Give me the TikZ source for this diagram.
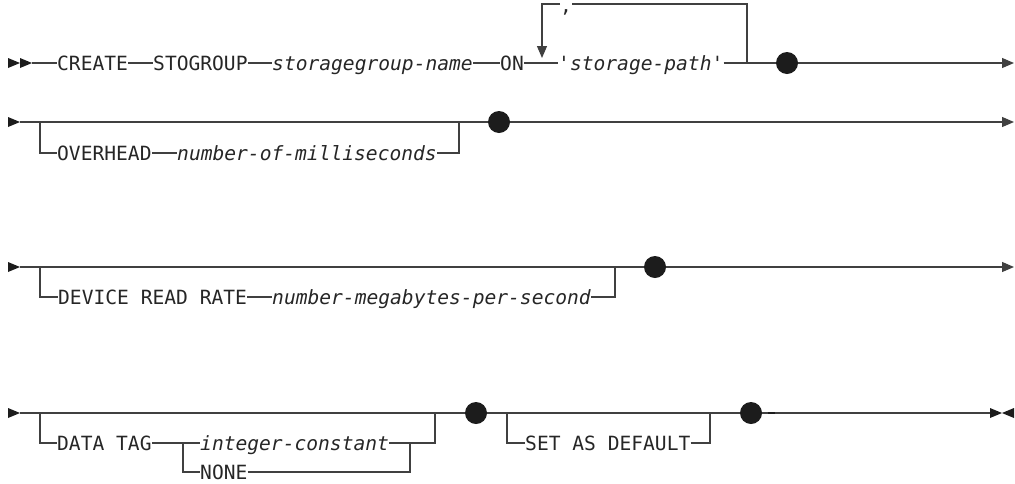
\documentclass[tikz,border=0pt]{standalone}
\usepackage{fontspec}
\setmonofont{DejaVu Sans Mono}[ItalicFont={DejaVu Sans Mono Oblique}]
\usetikzlibrary{arrows.meta}
\definecolor{ln}{HTML}{404040}
\definecolor{txt}{HTML}{262626}
\definecolor{dotc}{HTML}{1C1C1C}
\tikzset{
  kw/.style={anchor=west, inner sep=0pt, text height=14pt, text depth=0pt, text=txt,
             font=\fontsize{19.6}{22}\selectfont\ttfamily},
  var/.style={kw, font=\fontsize{19.6}{22}\selectfont\ttfamily\itshape},
  rail/.style={draw=ln, line width=1.2pt},
  endarrow/.style={rail, -{Triangle[length=12pt,width=10pt]}},
  bigdot/.style={circle, fill=dotc, minimum size=22pt, inner sep=0pt},
  tri/.style={fill=dotc},
}
\begin{document}
\begin{tikzpicture}[x=1pt,y=-1pt]
\useasboundingbox (0,0) rectangle (1015,483);

% ---------------- Row 1 ----------------
\fill[tri] (8,58) -- (20,63) -- (8,68) -- cycle;
\fill[tri] (20,58) -- (32,63) -- (20,68) -- cycle;
\coordinate (s1) at (32,63);
\node[kw]  (create) at (57,63)  {CREATE};
\node[kw]  (stog)   at (153,63) {STOGROUP};
\node[var] (sgname) at (272,63) {storagegroup-name};
\node[kw]  (on)     at (500,63) {ON};
\node[var] (spath)  at (558,63) {'storage-path'};
\node[bigdot] (dot1) at (787,63) {};
\coordinate (e1) at (1014,63);
\coordinate (lpR)  at (747,63);
\coordinate (lpTR) at (747,4);
\coordinate (lpTL) at (542,4);
\coordinate (lpB)  at (542,58);
\node[anchor=base, inner sep=0pt, text height=3pt, text depth=4pt, text=txt,
      font=\fontsize{19.6}{22}\selectfont\ttfamily] (comma) at (566,12) {,};
\coordinate (gapL) at (560,4);
\coordinate (gapR) at (572,4);

\draw[rail] (s1) -- (create.west);
\draw[rail] (create.east) -- (stog.west);
\draw[rail] (stog.east) -- (sgname.west);
\draw[rail] (sgname.east) -- (on.west);
\draw[rail] (on.east) -- (spath.west);
\draw[rail] (spath.east) -- (dot1);
\draw[endarrow] (dot1) -- (e1);
\draw[rail] (lpR) -- (lpTR) -- (gapR);
\draw[endarrow] (gapL) -- (lpTL) -- (lpB);

% ---------------- Row 2 ----------------
\fill[tri] (8,117) -- (20,122) -- (8,127) -- cycle;
\coordinate (s2)  at (20,122);
\coordinate (b2L) at (40,122);
\coordinate (b2LB) at (40,153);
\coordinate (b2R) at (459,122);
\coordinate (b2RB) at (459,153);
\node[kw]  (overhead) at (57,153)  {OVERHEAD};
\node[var] (msec)     at (177,153) {number-of-milliseconds};
\node[bigdot] (dot2) at (499,122) {};
\coordinate (e2) at (1014,122);
\draw[rail] (s2) -- (b2L) -- (b2R) -- (dot2);
\draw[endarrow] (dot2) -- (e2);
\draw[rail] (b2L) -- (b2LB) -- (overhead.west);
\draw[rail] (overhead.east) -- (msec.west);
\draw[rail] (msec.east) -- (b2RB) -- (b2R);

% ---------------- Row 3 ----------------
\fill[tri] (8,262) -- (20,267) -- (8,272) -- cycle;
\coordinate (s3)  at (20,267);
\coordinate (b3L) at (40,267);
\coordinate (b3LB) at (40,297);
\coordinate (b3R) at (615,267);
\coordinate (b3RB) at (615,297);
\node[kw]  (device) at (58,297)  {DEVICE READ RATE};
\node[var] (mbps)   at (272,297) {number-megabytes-per-second};
\node[bigdot] (dot3) at (655,267) {};
\coordinate (e3) at (1014,267);
\draw[rail] (s3) -- (b3L) -- (b3R) -- (dot3);
\draw[endarrow] (dot3) -- (e3);
\draw[rail] (b3L) -- (b3LB) -- (device.west);
\draw[rail] (device.east) -- (mbps.west);
\draw[rail] (mbps.east) -- (b3RB) -- (b3R);

% ---------------- Row 4 ----------------
\fill[tri] (8,408) -- (20,413) -- (8,418) -- cycle;
\coordinate (s4)  at (20,413);
\coordinate (b4L) at (40,413);
\coordinate (b4LB) at (40,443);
\node[kw]  (datatag) at (57,443)  {DATA TAG};
\coordinate (brL)  at (183,443);
\coordinate (brLB) at (183,472);
\node[var] (intc) at (200,443) {integer-constant};
\node[kw]  (none) at (200,472) {NONE};
\coordinate (brR)  at (410,443);
\coordinate (brRB) at (410,472);
\coordinate (b4RB) at (435,443);
\coordinate (b4R)  at (435,413);
\node[bigdot] (dot4) at (476,413) {};
\coordinate (b5L)  at (507,413);
\coordinate (b5LB) at (507,443);
\node[kw] (setdef) at (525,443) {SET AS DEFAULT};
\coordinate (b5RB) at (710,443);
\coordinate (b5R)  at (710,413);
\node[bigdot] (dot5) at (751,413) {};
\coordinate (e4) at (990,413);

\draw[rail] (s4) -- (b4L) -- (b4R) -- (dot4);
\draw[rail] (b4L) -- (b4LB) -- (datatag.west);
\draw[rail] (datatag.east) -- (brL) -- (intc.west);
\draw[rail] (brL) -- (brLB) -- (none.west);
\draw[rail] (intc.east) -- (brR) -- (b4RB) -- (b4R);
\draw[rail] (none.east) -- (brRB) -- (brR);
\draw[rail] (dot4) -- (b5L) -- (b5R) -- (dot5);
\draw[rail] (b5L) -- (b5LB) -- (setdef.west);
\draw[rail] (setdef.east) -- (b5RB) -- (b5R);
\draw[rail] (dot5) -- (e4);
\draw[draw=dotc, line width=2pt] (768,413) -- (775,413);
\fill[tri] (990,408) -- (1002,413) -- (990,418) -- cycle;
\fill[tri] (1014,408) -- (1002,413) -- (1014,418) -- cycle;
\end{tikzpicture}
\end{document}
